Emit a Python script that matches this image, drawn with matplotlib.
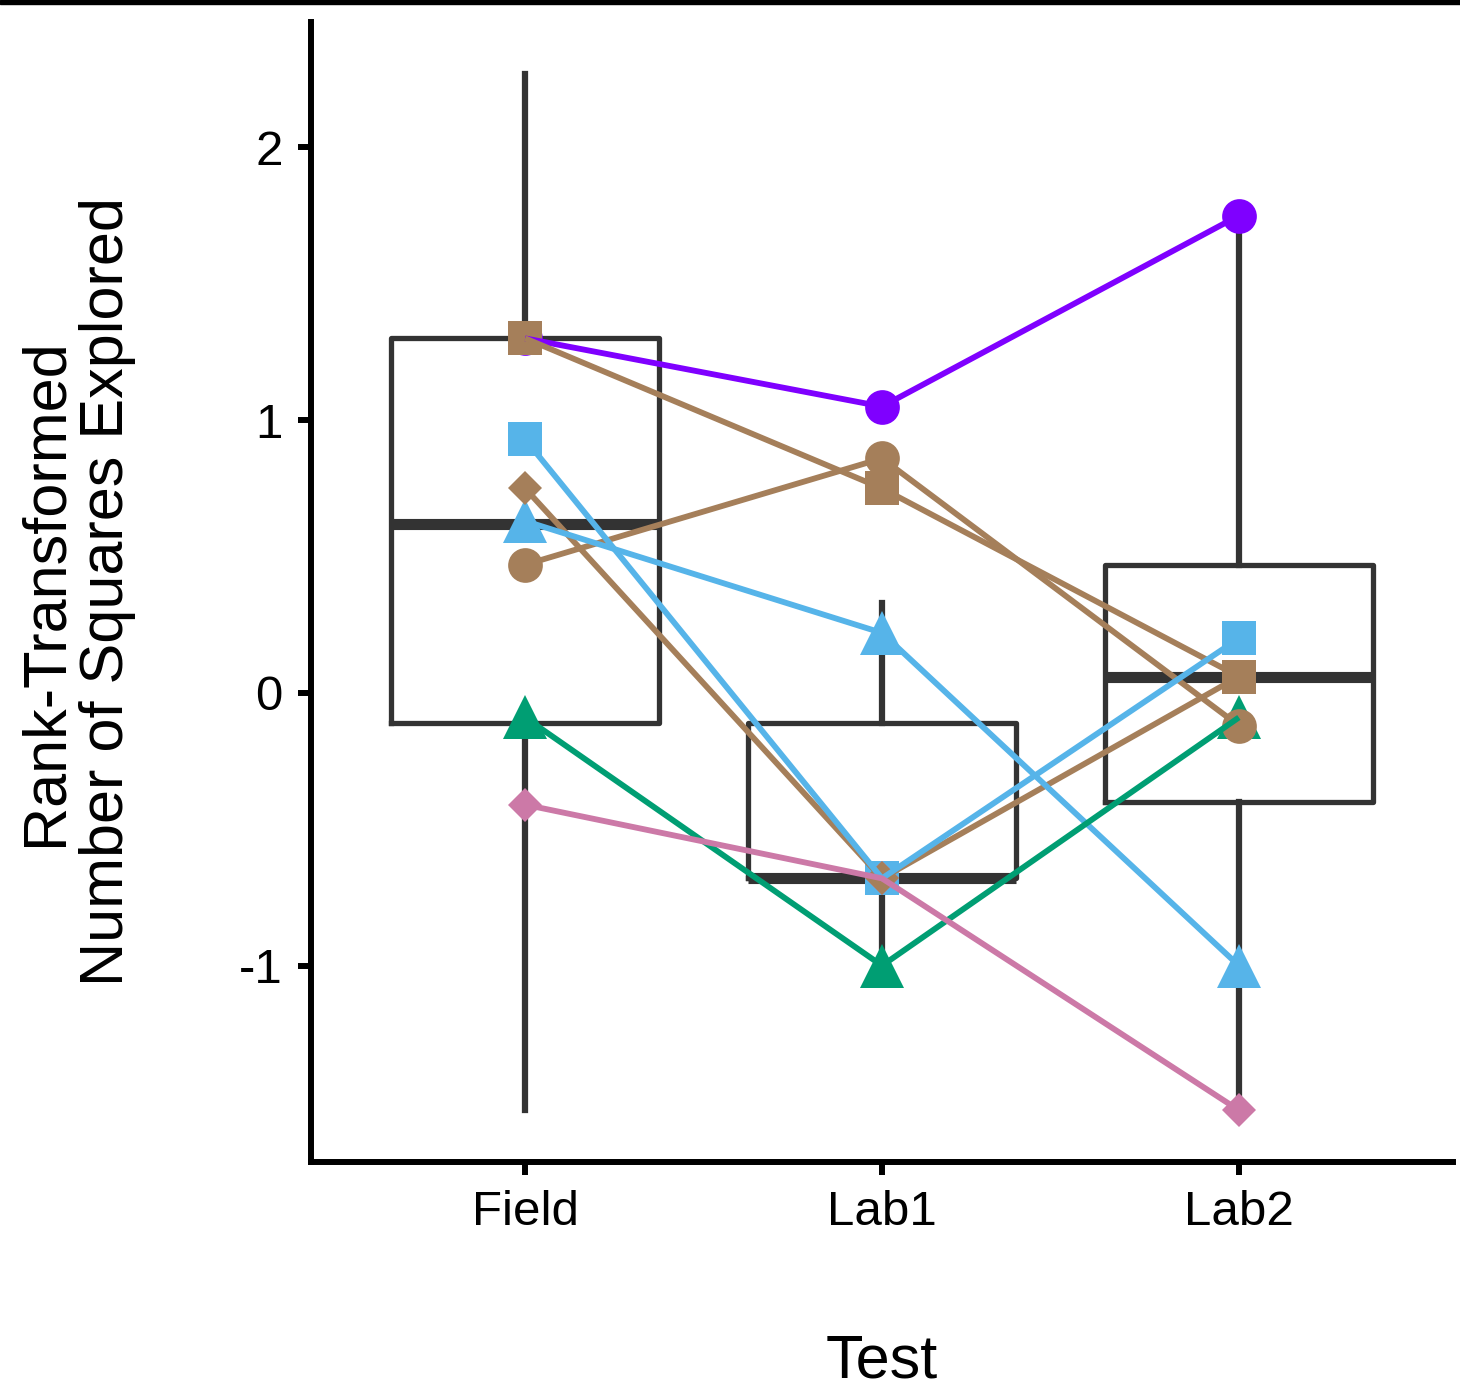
import matplotlib.pyplot as plt
from matplotlib.patches import Rectangle

plt.rcParams['font.family'] = ['Liberation Sans', 'DejaVu Sans']

tests = ["Field", "Lab1", "Lab2"]

# box summaries per test
box_whislo = [-1.53, -1.01, -1.53]
box_q1 = [-0.11, -0.68, -0.40]
box_med = [0.62, -0.68, 0.06]
box_q3 = [1.30, -0.11, 0.47]
box_whishi = [2.27, 0.33, 1.75]

# individual tracks (Field, Lab1, Lab2)
purple_circ = [1.30, 1.05, 1.75]
green_tri = [-0.09, -1.00, -0.09]
blue_sq = [0.93, -0.68, 0.20]
blue_tri = [0.63, 0.22, -1.00]
pink_dia = [-0.41, -0.68, -1.53]
brown_circ = [0.47, 0.86, -0.12]
brown_sq = [1.30, 0.75, 0.06]
brown_dia = [0.75, -0.68, 0.06]

PURPLE = "#7F00FF"
BROWN = "#A57F5A"
BLUE = "#56B4E9"
GREEN = "#009E73"
PINK = "#CC79A7"
BOXCOL = "#333333"

# (values, color, marker, markersize)
tracks = [
    (purple_circ, PURPLE, "o", 25),
    (green_tri, GREEN, "^", 31),
    (blue_sq, BLUE, "s", 25),
    (blue_tri, BLUE, "^", 31),
    (pink_dia, PINK, "D", 17),
    (brown_circ, BROWN, "o", 25),
    (brown_dia, BROWN, "D", 17),
    (brown_sq, BROWN, "s", 25),
]
line_order = [0, 5, 7, 6, 2, 3, 1, 4]

fig = plt.figure(figsize=(14.6, 13.97), dpi=100)
ax = fig.add_axes([311 / 1460, 1 - 1162 / 1397, (1453 - 311) / 1460, (1162 - 22) / 1397])

pos = [1, 2, 3]
stats = []
for i, t in enumerate(tests):
    stats.append(dict(label=t, whislo=box_whislo[i], q1=box_q1[i], med=box_med[i],
                      q3=box_q3[i], whishi=box_whishi[i], fliers=[]))
ax.bxp(stats, positions=pos, widths=0.75, showcaps=False, showfliers=False,
       boxprops=dict(color=BOXCOL, linewidth=3.8),
       whiskerprops=dict(color=BOXCOL, linewidth=4.5),
       medianprops=dict(color=BOXCOL, linewidth=8, solid_capstyle="butt"),
       zorder=1)

# points first, then lines on top
for vals, col, mk, ms in tracks:
    ax.plot(pos, vals, linestyle="none", marker=mk, markersize=ms,
            markerfacecolor=col, markeredgewidth=0, zorder=2)
for k in line_order:
    vals, col, mk, ms = tracks[k]
    ax.plot(pos, vals, color=col, linewidth=4.2, zorder=3, solid_capstyle="butt")

ax.set_xlim(0.4, 3.6)
ax.set_ylim(-1.72, 2.46)
ax.set_xticks(pos)
ax.set_xticklabels(tests)
ax.set_yticks([-1, 0, 1, 2])
ax.set_yticklabels(["-1", "0", "1", "2"])

for s in ["top", "right"]:
    ax.spines[s].set_visible(False)
for s in ["left", "bottom"]:
    ax.spines[s].set_linewidth(4.3)
    ax.spines[s].set_color("black")
ax.tick_params(axis="both", length=9.5, width=4.3, color="black",
               labelsize=35.5, labelcolor="black")
ax.tick_params(axis="y", pad=11)
ax.tick_params(axis="x", pad=11)

fig.text(882 / 1460, 1 - 1362 / 1397, "Test", fontsize=44, ha="center", va="center")
fig.text(77 / 1460, 1 - 592 / 1397, "Rank-Transformed\nNumber of Squares Explored",
         fontsize=44, rotation=90, ha="center", va="center", multialignment="center",
         linespacing=1.1)

fig.add_artist(Rectangle((0, 1 - 4 / 1397), 1, 4 / 1397, transform=fig.transFigure,
                         color="black"))

fig.savefig("out.png", dpi=100)
